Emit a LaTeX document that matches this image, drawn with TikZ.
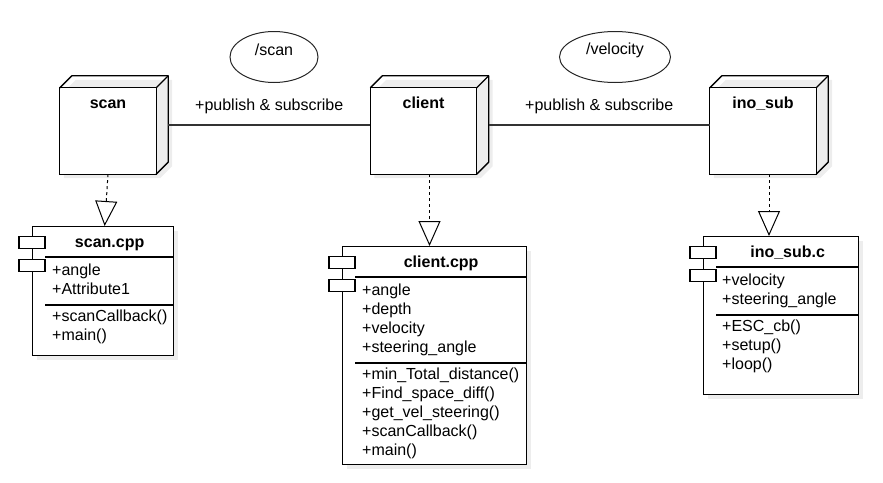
\documentclass[tikz,border=0pt]{standalone}
\usepackage{fontspec}
\setmainfont{Liberation Sans}
\usepackage{tikz}
\usetikzlibrary{positioning, calc, arrows.meta, shapes.geometric, shadows, backgrounds}

\newcommand{\diafont}{\fontsize{16}{19}\selectfont}

\tikzset{
    devbox/.style={minimum height=98pt, inner sep=0pt},
    devlabel/.style={anchor=base, inner sep=0pt, font=\diafont\bfseries, xshift=-6pt, yshift=-33pt},
    devline/.style={line width=1.3pt},
    topic/.style={ellipse, draw=black!85, line width=1pt, minimum height=51pt, inner sep=0pt},
    classbox/.style={draw, line width=1.3pt, fill=white, inner sep=0pt, anchor=north west,
        drop shadow={shadow xshift=4pt, shadow yshift=-4pt, fill=black!7, opacity=1}},
    tab/.style={draw, line width=1.3pt, fill=white, minimum width=26pt, minimum height=12pt, inner sep=0pt, anchor=north},
    classname/.style={anchor=base, inner sep=0pt, font=\diafont\bfseries},
    member/.style={anchor=base west, inner sep=0pt},
    link/.style={draw=black!80, line width=1.3pt},
    realize/.style={line width=1pt, dash pattern=on 3pt off 3pt,
        -{Triangle[open, length=25pt, width=22pt, line width=1pt]}}
}

\begin{document}
\begin{tikzpicture}[x=1pt, y=-1pt, font=\diafont]
                \useasboundingbox (0,0) rectangle (883,482);

                % ノードの描画
                \node[devbox, minimum width=108pt, label={[devlabel]north:scan}] (scan) at (114,125) {};
                \node[devbox, minimum width=118pt, label={[devlabel]north:client}] (client) at (429.5,125) {};
                \node[devbox, minimum width=118pt, label={[devlabel]north:ino\_sub}] (inosub) at (769,125) {};

                \foreach \n in {scan, client, inosub}{
                    \begin{scope}[on background layer]
                        \fill[black!7, transform canvas={shift={(4pt,-4pt)}}] (\n.south west) -- ([shift={(0,12)}]\n.north west)
                            -- ([shift={(12,0)}]\n.north west) -- (\n.north east) -- ([shift={(0,-12)}]\n.south east)
                            -- ([shift={(-12,0)}]\n.south east) -- cycle;
                        \fill[white] (\n.south west) rectangle ([shift={(-12,12)}]\n.north east);
                    \end{scope}
                    \draw[devline] (\n.south west) rectangle ([shift={(-12,12)}]\n.north east);
                    \draw[devline, line join=bevel] ([shift={(0,12)}]\n.north west) -- ([shift={(12,0)}]\n.north west)
                        -- (\n.north east) -- ([shift={(0,-12)}]\n.south east) -- ([shift={(-12,0)}]\n.south east);
                    \draw[devline] ([shift={(-12,12)}]\n.north east) -- (\n.north east);
                }

                % トピック
                \node[topic, minimum width=88pt, label={[yshift=7pt]center:/scan}] (scantopic) at (274,57) {};
                \node[topic, minimum width=111pt, label={[yshift=7pt]center:/velocity}] (veltopic) at (615,57) {};

                % 接続線
                \draw[link] (scan.east) -- (client.west)
                    node[midway, anchor=base, yshift=15pt, black] (pubsub1) {+publish \& subscribe};
                \draw[link] (client.east) -- (inosub.west)
                    node[midway, anchor=base, yshift=15pt, black] (pubsub2) {+publish \& subscribe};

                % コンポーネント (scan.cpp)
                \node[classbox, minimum width=141pt, minimum height=129pt] (scancpp) at (32,226) {};
                \node[tab] (scantab1) at ([shift={(0,10)}]scancpp.north west) {};
                \node[tab] (scantab2) at ([shift={(0,33)}]scancpp.north west) {};
                \node[classname] (scanname) at ([shift={(6.5,21)}]scancpp.north) {scan.cpp};
                \draw[devline] ([shift={(13,31)}]scancpp.north west) -- ([shift={(0,31)}]scancpp.north east);
                \draw[devline] ([shift={(13,79)}]scancpp.north west) -- ([shift={(0,79)}]scancpp.north east);
                \foreach \t [count=\i] in {+angle, +Attribute1}
                    \node[member] (scanattr\i) at ([shift={(20,30+19*\i)}]scancpp.north west) {\t};
                \foreach \t [count=\i] in {+scanCallback(), +main()}
                    \node[member] (scanop\i) at ([shift={(20,76+19*\i)}]scancpp.north west) {\t};

                % コンポーネント (client.cpp)
                \node[classbox, minimum width=184pt, minimum height=218pt] (clientcpp) at (342,246) {};
                \node[tab] (clienttab1) at ([shift={(0,10)}]clientcpp.north west) {};
                \node[tab] (clienttab2) at ([shift={(0,33)}]clientcpp.north west) {};
                \node[classname] (clientname) at ([shift={(6.5,21)}]clientcpp.north) {client.cpp};
                \draw[devline] ([shift={(13,31)}]clientcpp.north west) -- ([shift={(0,31)}]clientcpp.north east);
                \draw[devline] ([shift={(13,117)}]clientcpp.north west) -- ([shift={(0,117)}]clientcpp.north east);
                \foreach \t [count=\i] in {+angle, +depth, +velocity, +steering\_angle}
                    \node[member] (clientattr\i) at ([shift={(20,30+19*\i)}]clientcpp.north west) {\t};
                \foreach \t [count=\i] in {+min\_Total\_distance(), +Find\_space\_diff(), +get\_vel\_steering(), +scanCallback(), +main()}
                    \node[member] (clientop\i) at ([shift={(20,114+19*\i)}]clientcpp.north west) {\t};

                % コンポーネント (ino_sub.c)
                \node[classbox, minimum width=155pt, minimum height=158pt] (inosubc) at (703,236) {};
                \node[tab] (inotab1) at ([shift={(0,10)}]inosubc.north west) {};
                \node[tab] (inotab2) at ([shift={(0,33)}]inosubc.north west) {};
                \node[classname] (inoname) at ([shift={(6.5,21)}]inosubc.north) {ino\_sub.c};
                \draw[devline] ([shift={(13,31)}]inosubc.north west) -- ([shift={(0,31)}]inosubc.north east);
                \draw[devline] ([shift={(13,79)}]inosubc.north west) -- ([shift={(0,79)}]inosubc.north east);
                \foreach \t [count=\i] in {+velocity, +steering\_angle}
                    \node[member] (inoattr\i) at ([shift={(19,30+19*\i)}]inosubc.north west) {\t};
                \foreach \t [count=\i] in {+ESC\_cb(), +setup(), +loop()}
                    \node[member] (inoop\i) at ([shift={(19,76+19*\i)}]inosubc.north west) {\t};

                % 実現の矢印
                \draw[realize] ([xshift=-6pt]scan.south) -- ([xshift=1.5pt]scancpp.north);
                \draw[realize] (client.south) -- (client.south |- clientcpp.north);
                \draw[realize] (inosub.south) -- (inosub.south |- inosubc.north);
            \end{tikzpicture}
\end{document}
